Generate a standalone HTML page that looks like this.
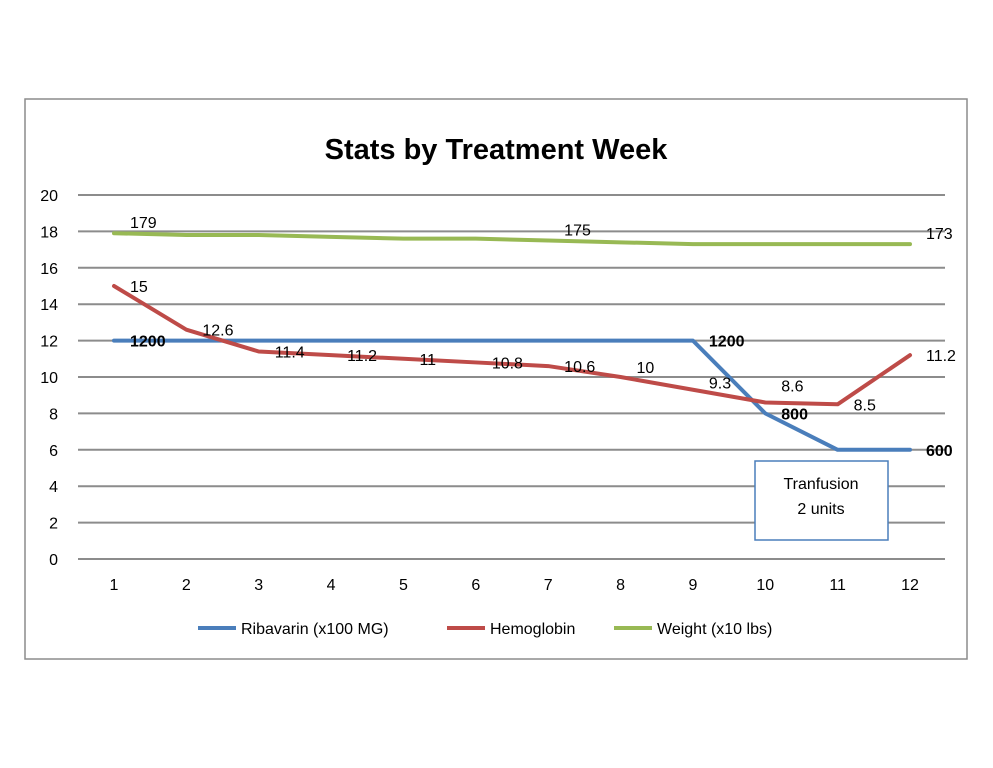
<!DOCTYPE html>
<html><head><meta charset="utf-8"><style>
body{margin:0;background:#fff;}
svg{display:block;font-family:"Liberation Sans",sans-serif;}
</style></head><body>
<svg id="chart" width="993" height="768">
<rect x="25" y="99" width="942" height="560" fill="#fff" stroke="#8c8c8c" stroke-width="1.5"/>
<text x="496" y="159" text-anchor="middle" font-size="29" font-weight="bold" fill="#000">Stats by Treatment Week</text>
<g id="grid"></g><g id="series"></g><g id="labels"></g>
<rect x="755" y="461" width="133" height="79" fill="#fff" stroke="#4a7ebb" stroke-width="1.5"/>
<text x="821" y="489" text-anchor="middle" font-size="16">Tranfusion</text>
<text x="821" y="514" text-anchor="middle" font-size="16">2 units</text>
<g>
<line x1="198" y1="628" x2="236" y2="628" stroke="#4a7ebb" stroke-width="4"/>
<text x="241" y="634" font-size="16">Ribavarin (x100 MG)</text>
<line x1="447" y1="628" x2="485" y2="628" stroke="#be4b48" stroke-width="4"/>
<text x="490" y="634" font-size="16">Hemoglobin</text>
<line x1="614" y1="628" x2="652" y2="628" stroke="#98b954" stroke-width="4"/>
<text x="657" y="634" font-size="16">Weight (x10 lbs)</text>
</g>
</svg>
<script>
const weeks=[1,2,3,4,5,6,7,8,9,10,11,12];
const yTicks=[0,2,4,6,8,10,12,14,16,18,20];
const ribavarin=[12,12,12,12,12,12,12,12,12,8,6,6];
const hemoglobin=[15,12.6,11.4,11.2,11,10.8,10.6,10,9.3,8.6,8.5,11.2];
const weight=[17.9,17.8,17.8,17.7,17.6,17.6,17.5,17.4,17.3,17.3,17.3,17.3];
const ribLabels=["1200","","","","","","","","1200","800","","600"];
const hemLabels=["15","12.6","11.4","11.2","11","10.8","10.6","10","9.3","8.6","8.5","11.2"];
const wtLabels=["179","","","","","","175","","","","","173"];
const NS="http://www.w3.org/2000/svg";
const X=w=>114+(w-1)*(910-114)/11;
const Y=v=>559-v*(559-195)/20;
function mk(tag,attrs,parent,text){const e=document.createElementNS(NS,tag);for(const k in attrs)e.setAttribute(k,attrs[k]);if(text!==undefined)e.textContent=text;parent.appendChild(e);return e;}
const grid=document.getElementById('grid'),ser=document.getElementById('series'),lab=document.getElementById('labels');
yTicks.forEach(t=>{
 const l=mk('line',{x1:78,x2:945,y1:Y(t),y2:Y(t),stroke:'#8c8c8c','stroke-width':2},grid);
 
 
 const tx=mk('text',{x:58,y:Y(t)+6,'text-anchor':'end','font-size':16},grid,String(t));
 
 
});
weeks.forEach(w=>{
 const tx=mk('text',{x:X(w),y:590,'text-anchor':'middle','font-size':16},grid,String(w));
 
 
});
function line(vals,color,name){
 const p=mk('polyline',{points:vals.map((v,i)=>X(weeks[i])+','+Y(v)).join(' '),fill:'none',stroke:color,'stroke-width':4,'stroke-linejoin':'round','stroke-linecap':'round'},ser);
 
 
}
line(ribavarin,'#4a7ebb','ribavarin-line');
line(weight,'#98b954','weight-line');
line(hemoglobin,'#be4b48','hemoglobin-line');
const hemLift={8:-10,9:-7,10:-17};
function labels(vals,texts,dx,dy,bold,name,lift){
 texts.forEach((t,i)=>{if(!t)return;
  const extra=(lift&&lift[weeks[i]])||0;
  const e=mk('text',{x:X(weeks[i])+dx,y:Y(vals[i])+dy+extra,'font-size':16,'font-weight':bold?'bold':'normal'},lab,t);
  
  
 });
}
labels(ribavarin,ribLabels,16,6,true,'ribavarin');
labels(hemoglobin,hemLabels,16,6,false,'hemoglobin',hemLift);
labels(weight,wtLabels,16,-5,false,'weight');
</script>
</body></html>
